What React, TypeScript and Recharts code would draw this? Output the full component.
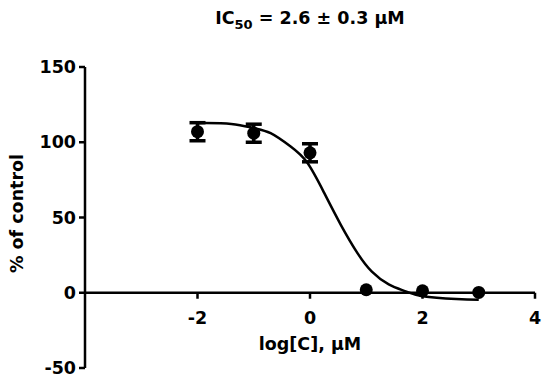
import {
  ComposedChart,
  Line,
  Scatter,
  ErrorBar,
  XAxis,
  YAxis,
  ReferenceLine,
} from "recharts";

// measured points
const doseLog = [-2, -1, 0, 1, 2, 3];
const meanResponse = [107, 106, 93, 2, 1.3, 0.2];
const semResponse = [6, 6, 6, null, null, null];

// fitted curve
const fitLog = [-2, -1.4, -1, -0.7, -0.35, -0.05, 0.25, 0.55, 0.85, 1.1, 1.4, 1.7, 2, 2.6, 3];
const fitResponse = [112.7, 112.2, 109.4, 106, 97.3, 86.5, 66.5, 45, 26, 14, 5.5, 0.9, -2.3, -4.2, -4.6];

const xTicks = [-2, 0, 2, 4];
const yTicks = [-50, 0, 50, 100, 150];
const X_MIN = -4;
const X_MAX = 4;

const points = doseLog.map((x, i) => ({ x, y: meanResponse[i], err: semResponse[i] }));
const fit = fitLog.map((x, i) => ({ x, y: fitResponse[i] }));

const FONT = "DejaVu Sans, Arial, sans-serif";

// x axis drawn through y = 0, positioned from the reference line end points
const ZeroAxis = (props: any) => {
  const { x1, x2, y1 } = props;
  const xOf = (v: number) => x1 + ((x2 - x1) * (v - X_MIN)) / (X_MAX - X_MIN);
  return (
    <g>
      <line x1={x1} x2={x2} y1={y1} y2={y1} stroke="#000" strokeWidth={2.5} />
      {xTicks.map((t) => (
        <g key={t}>
          <line x1={xOf(t)} x2={xOf(t)} y1={y1} y2={y1 + 6} stroke="#000" strokeWidth={2.5} />
          <text
            x={xOf(t)}
            y={y1 + 31}
            textAnchor="middle"
            fontFamily={FONT}
            fontWeight="bold"
            fontSize={17.5}
            fill="#000"
          >
            {t}
          </text>
        </g>
      ))}
      <text
        x={(x1 + x2) / 2}
        y={y1 + 57}
        textAnchor="middle"
        fontFamily={FONT}
        fontWeight="bold"
        fontSize={17.5}
        fill="#000"
      >
        log[C], µM
      </text>
    </g>
  );
};

const YLabel = (props: any) => {
  const vb = props.viewBox || {};
  const cy = (vb.y ?? 0) + (vb.height ?? 0) / 2 - 4;
  return (
    <text
      x={17}
      y={cy}
      transform={`rotate(-90 17 ${cy})`}
      textAnchor="middle"
      dominantBaseline="central"
      fontFamily={FONT}
      fontWeight="bold"
      fontSize={17.5}
      fill="#000"
    >
      % of control
    </text>
  );
};

export default function App() {
  return (
    <div style={{ position: "absolute", left: 0, top: 0, width: 550, height: 383, background: "#fff" }}>
      <div
        style={{
          position: "absolute",
          left: 85,
          width: 450,
          top: 8,
          textAlign: "center",
          fontFamily: FONT,
          fontWeight: "bold",
          fontSize: 17.5,
          color: "#000",
        }}
      >
        IC<sub style={{ fontSize: 13, verticalAlign: -5 }}>50</sub> = 2.6 ± 0.3 µM
      </div>
      <ComposedChart
        width={550}
        height={383}
        margin={{ top: 67, right: 15, bottom: 15, left: 0 }}
      >
        <XAxis type="number" dataKey="x" domain={[X_MIN, X_MAX]} hide allowDataOverflow />
        <YAxis
          type="number"
          dataKey="y"
          domain={[-50, 150]}
          ticks={yTicks}
          width={85}
          interval={0}
          axisLine={{ stroke: "#000", strokeWidth: 2.5 }}
          tickLine={{ stroke: "#000", strokeWidth: 2.5 }}
          tickSize={6}
          tickMargin={3}
          tick={{ fill: "#000", fontSize: 17.5, fontWeight: "bold", fontFamily: FONT }}
          label={<YLabel />}
        />
        <ReferenceLine y={0} shape={ZeroAxis} />
        <Line
          data={fit}
          dataKey="y"
          type="natural"
          stroke="#000"
          strokeWidth={2.5}
          dot={false}
          activeDot={false}
          isAnimationActive={false}
        />
        <Scatter
          data={points}
          dataKey="y"
          fill="#000"
          isAnimationActive={false}
          shape={(p: any) => <circle cx={p.cx} cy={p.cy} r={6.5} fill="#000" />}
        >
          <ErrorBar dataKey="err" direction="y" width={8} stroke="#000" strokeWidth={3.5} />
        </Scatter>
      </ComposedChart>
    </div>
  );
}
